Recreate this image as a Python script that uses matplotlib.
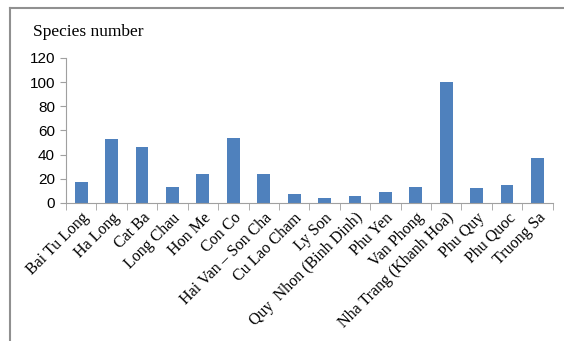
import matplotlib
matplotlib.use("Agg")
import matplotlib.pyplot as plt
from matplotlib.lines import Line2D
import numpy as np

sites = ["Bai Tu Long", "Ha Long", "Cat Ba", "Long Chau", "Hon Me", "Con Co",
         "Hai Van \u2013 Son Cha", "Cu Lao Cham", "Ly Son", "Quy  Nhon (Binh Dinh)",
         "Phu Yen", "Van Phong", "Nha Trang (Khanh Hoa)", "Phu Quy", "Phu Quoc",
         "Truong Sa"]
species = [17, 53, 46, 13, 24, 54, 24, 7, 4, 6, 9, 13, 100, 12, 15, 37]
yticks = [0, 20, 40, 60, 80, 100, 120]

fig = plt.figure(figsize=(5.64, 3.41), dpi=100)
ax = fig.add_axes([0.117, 0.405, 0.863, 0.425])

x = np.arange(len(sites))
ax.bar(x, species, width=0.42, color="#4F81BD")

ax.set_xlim(-0.5, len(sites) - 0.5)
ax.set_ylim(0, 120)
ax.set_yticks(yticks)
ax.set_yticklabels([str(v) for v in yticks], fontsize=11,
                   family="Liberation Sans")

ax.set_xticks(x)
ax.set_xticklabels(sites, rotation=45, ha="right", rotation_mode="anchor",
                   fontsize=11.5, family="Liberation Serif")
ax.set_xticks(np.arange(-0.5, len(sites)), minor=True)
ax.tick_params(axis="x", which="major", length=0, pad=5)
ax.tick_params(axis="x", which="minor", length=5, color="#A0A0A0")
ax.tick_params(axis="y", length=4, color="#A0A0A0", pad=4)

for s in ["top", "right"]:
    ax.spines[s].set_visible(False)
for s in ["left", "bottom"]:
    ax.spines[s].set_color("#A0A0A0")

fig.text(0.058, 0.905, "Species number", fontsize=12.5,
         family="Liberation Serif", va="center")

# outer frame (top and left only)
fig.add_artist(Line2D([0.018, 1.0], [0.978, 0.978], color="#909090", lw=1.5))
fig.add_artist(Line2D([0.018, 0.018], [0.0, 0.978], color="#909090", lw=1.5))

fig.savefig("out.png", dpi=100)
